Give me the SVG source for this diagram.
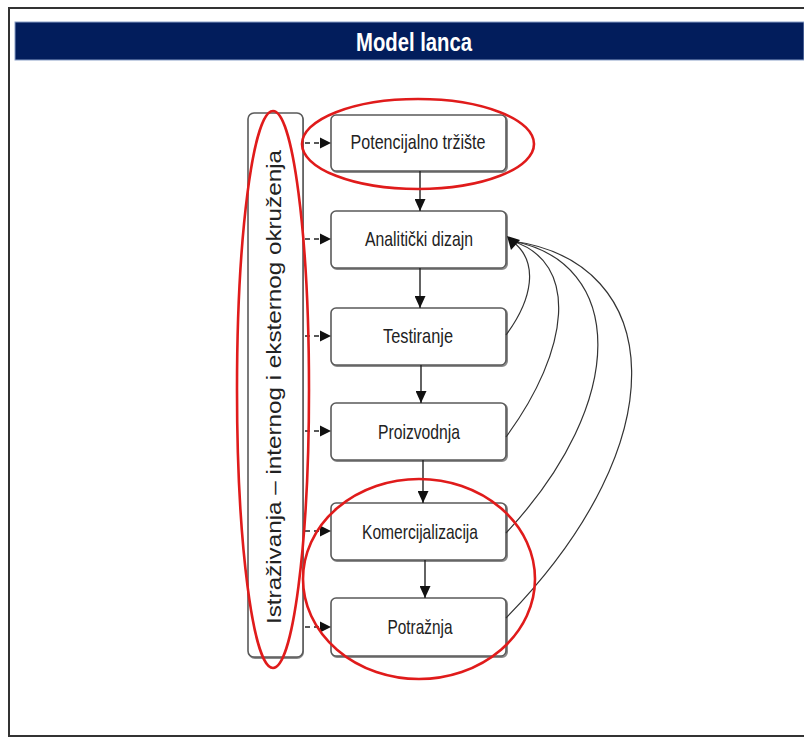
<svg xmlns="http://www.w3.org/2000/svg" width="804" height="738" viewBox="0 0 804 738">
<defs>
<style>
.box{fill:#fff;stroke:#5a5a5a;stroke-width:1.6}
.shadow{fill:none;stroke:#8a8a8a;stroke-width:2}
.lbl{font-family:"Liberation Sans","DejaVu Sans",sans-serif;font-size:21px;fill:#222;text-anchor:middle}
.dash{stroke:#222;stroke-width:1.6;stroke-dasharray:5,4;fill:none}
.solid{stroke:#222;stroke-width:1.4;fill:none}
.curve{stroke:#333;stroke-width:1.2;fill:none}
.red{fill:none;stroke:#e01b1b;stroke-width:2.6}
</style>
<marker id="ah" viewBox="0 0 12 11" refX="12" refY="5.5" markerWidth="12" markerHeight="11" markerUnits="userSpaceOnUse" orient="auto">
<path d="M0,0 L12,5.5 L0,11 Z" fill="#111"/>
</marker>
</defs>
<rect x="0" y="0" width="804" height="738" fill="#fff"/>
<!-- frame -->
<path d="M804,8 L9,8 L9,736 L804,736" fill="none" stroke="#333" stroke-width="2"/>
<!-- title bar -->
<rect x="15" y="22" width="789" height="38" fill="#021d5c" stroke="#8aa0c8" stroke-width="1"/>
<text x="414" y="51" font-family="Liberation Sans, DejaVu Sans, sans-serif" font-size="25" font-weight="bold" fill="#fff" text-anchor="middle" textLength="116" lengthAdjust="spacingAndGlyphs">Model lanca</text>

<g id="istrazivanja">
<rect x="249" y="114" width="54" height="544" rx="6" class="shadow"/>
<rect x="248" y="113" width="55" height="544" rx="6" class="box"/>
<text transform="translate(281,387) rotate(-90)" class="lbl" font-size="19" fill="#333" textLength="474" lengthAdjust="spacingAndGlyphs">Istraživanja – internog i eksternog okruženja</text>
</g>
<g id="potencijalno">
<rect x="332" y="116" width="175" height="56" rx="5" class="shadow"/>
<rect x="331" y="115" width="175" height="56" rx="5" class="box"/>
<text x="418" y="149" class="lbl" textLength="135" lengthAdjust="spacingAndGlyphs">Potencijalno tržište</text>
</g>
<g id="analiticki">
<rect x="332" y="212" width="175" height="57" rx="5" class="shadow"/>
<rect x="331" y="211" width="175" height="57" rx="5" class="box"/>
<text x="419" y="246" class="lbl" textLength="108" lengthAdjust="spacingAndGlyphs">Analitički dizajn</text>
</g>
<g id="testiranje">
<rect x="332" y="309" width="175" height="57" rx="5" class="shadow"/>
<rect x="331" y="308" width="175" height="57" rx="5" class="box"/>
<text x="418" y="343" class="lbl" textLength="70" lengthAdjust="spacingAndGlyphs">Testiranje</text>
</g>
<g id="proizvodnja">
<rect x="332" y="404" width="175" height="57" rx="5" class="shadow"/>
<rect x="331" y="403" width="175" height="57" rx="5" class="box"/>
<text x="419" y="439" class="lbl" textLength="82" lengthAdjust="spacingAndGlyphs">Proizvodnja</text>
</g>
<g id="komercijalizacija">
<rect x="332" y="504" width="175" height="57" rx="5" class="shadow"/>
<rect x="331" y="503" width="175" height="57" rx="5" class="box"/>
<text x="420" y="539" class="lbl" textLength="116" lengthAdjust="spacingAndGlyphs">Komercijalizacija</text>
</g>
<g id="potraznja">
<rect x="332" y="599" width="175" height="58" rx="5" class="shadow"/>
<rect x="331" y="598" width="175" height="58" rx="5" class="box"/>
<text x="420" y="634" class="lbl" textLength="65" lengthAdjust="spacingAndGlyphs">Potražnja</text>
</g>

<g id="connectors">
<path class="dash" d="M305,143 L320,143"/>
<path d="M320,137.5 L331,143 L320,148.5 Z" fill="#111"/>
<path class="dash" d="M305,239 L320,239"/>
<path d="M320,233.5 L331,239 L320,244.5 Z" fill="#111"/>
<path class="dash" d="M305,336 L320,336"/>
<path d="M320,330.5 L331,336 L320,341.5 Z" fill="#111"/>
<path class="dash" d="M305,431 L320,431"/>
<path d="M320,425.5 L331,431 L320,436.5 Z" fill="#111"/>
<path class="dash" d="M305,531 L320,531"/>
<path d="M320,525.5 L331,531 L320,536.5 Z" fill="#111"/>
<path class="dash" d="M305,627 L320,627"/>
<path d="M320,621.5 L331,627 L320,632.5 Z" fill="#111"/>

<path class="solid" d="M420,171 L420,211" marker-end="url(#ah)"/>
<path class="solid" d="M420,268 L420,308" marker-end="url(#ah)"/>
<path class="solid" d="M421,365 L421,403" marker-end="url(#ah)"/>
<path class="solid" d="M423,460 L423,503" marker-end="url(#ah)"/>
<path class="solid" d="M425,560 L425,598" marker-end="url(#ah)"/>

<path class="curve" d="M506,335 C532,300 540,262 512,241"/>
<path class="curve" d="M506,437 C570,350 580,262 512,241"/>
<path class="curve" d="M506,533 C630,400 625,262 512,241"/>
<path class="curve" d="M506,618 C680,440 665,262 512,241"/>
<path d="M507,236 L520,240 L511,250 Z" fill="#111"/>
</g>

<g id="highlights">
<ellipse cx="418" cy="144" rx="116" ry="45" class="red"/>
<ellipse cx="273" cy="389.5" rx="36" ry="278.5" class="red"/>
<ellipse cx="419" cy="579" rx="116" ry="100" class="red"/>
</g>
</svg>
